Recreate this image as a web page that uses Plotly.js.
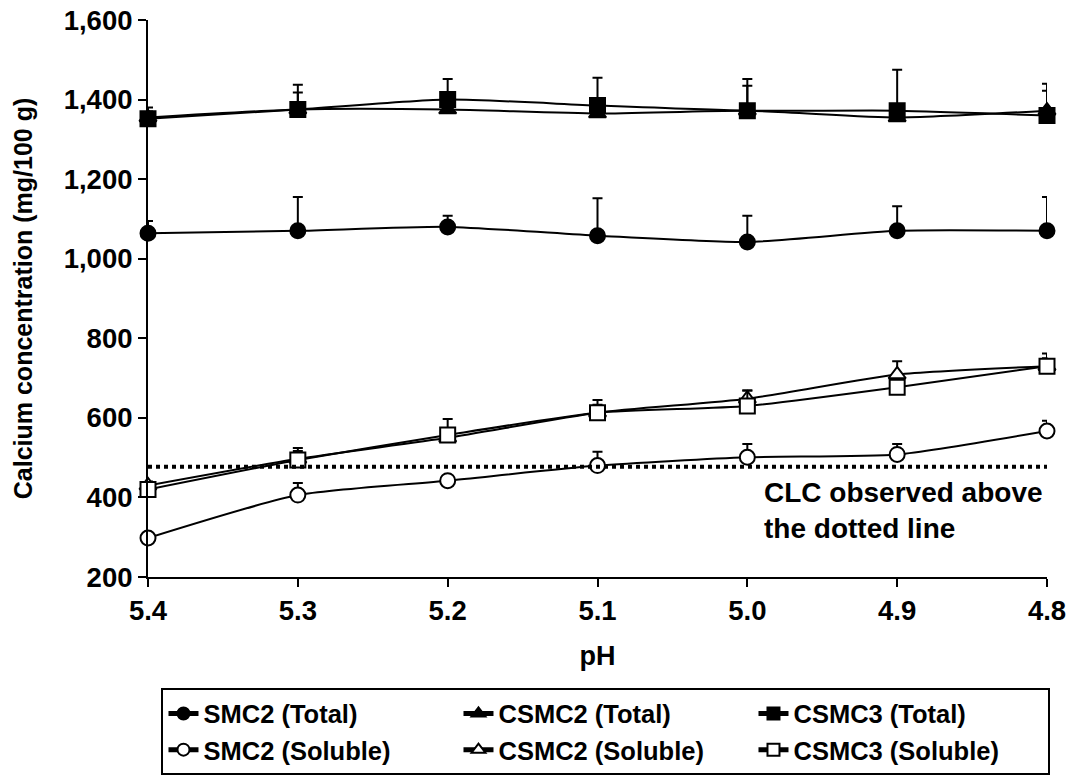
<!DOCTYPE html>
<html>
<head>
<meta charset="utf-8">
<script src="https://cdn.plot.ly/plotly-3.0.1.min.js"></script>
<style>html,body{margin:0;padding:0;background:#fff;}#chart{width:1070px;height:780px;}</style>
</head>
<body>
<div id="chart"></div>
<script>
const pH = [5.4, 5.3, 5.2, 5.1, 5.0, 4.9, 4.8];
const xTickLabels = ['5.4', '5.3', '5.2', '5.1', '5.0', '4.9', '4.8'];

const smc2Total = [1064, 1070, 1080, 1058, 1042, 1070, 1070];
const smc2TotalErr = [31, 85, 28, 94, 66, 62, 85];
const csmc2Total = [1355, 1375, 1375, 1365, 1372, 1355, 1372];
const csmc2TotalErr = [15, 43, 15, 15, 63, 15, 50];
const csmc3Total = [1352, 1375, 1400, 1385, 1372, 1372, 1360];
const csmc3TotalErr = [28, 62, 52, 70, 80, 103, 80];

const smc2Soluble = [298, 406, 442, 480, 501, 508, 567];
const smc2SolubleErr = [10, 30, 10, 35, 33, 26, 26];
const csmc2Soluble = [430, 497, 550, 613, 648, 709, 730];
const csmc2SolubleErr = [10, 20, 15, 20, 21, 33, 20];
const csmc3Soluble = [420, 494, 557, 613, 630, 677, 730];
const csmc3SolubleErr = [10, 30, 40, 32, 39, 15, 32];

const clcThreshold = 477;

const FONT = 'Liberation Sans, Arial, Helvetica, sans-serif';

function series(name, y, err, symbol, open) {
  return {
    type: 'scatter', mode: 'lines+markers', name: name,
    x: pH, y: y,
    line: {color: '#000', width: 2, shape: 'spline', smoothing: 0.6},
    marker: {symbol: symbol, size: 15, color: open ? '#fff' : '#000',
             line: {color: '#000', width: 2}},
    error_y: {type: 'data', symmetric: false, array: err, arrayminus: err.map(() => 0),
              color: '#000', thickness: 2, width: 5},
    cliponaxis: false
  };
}

const traces = [
  series('SMC2 (Total)', smc2Total, smc2TotalErr, 'circle', false),
  series('CSMC2 (Total)', csmc2Total, csmc2TotalErr, 'triangle-up', false),
  series('CSMC3 (Total)', csmc3Total, csmc3TotalErr, 'square', false),
  series('SMC2 (Soluble)', smc2Soluble, smc2SolubleErr, 'circle', true),
  series('CSMC2 (Soluble)', csmc2Soluble, csmc2SolubleErr, 'triangle-up', true),
  series('CSMC3 (Soluble)', csmc3Soluble, csmc3SolubleErr, 'square', true)
];

const bold = (size) => ({family: FONT, size: size, color: '#000', weight: 'bold'});

const layout = {
  width: 1070, height: 780,
  margin: {l: 148, r: 23, t: 20, b: 203, autoexpand: false},
  paper_bgcolor: '#fff', plot_bgcolor: '#fff',
  font: bold(27),
  showlegend: true,
  xaxis: {
    range: [5.4, 4.8], tickvals: pH, ticktext: xTickLabels,
    showgrid: false, zeroline: false, showline: true, linecolor: '#000', linewidth: 2,
    ticks: 'outside', ticklen: 8, tickwidth: 2, tickcolor: '#000',
    tickfont: bold(27.5),
    title: {text: 'pH', font: bold(27), standoff: 21}
  },
  yaxis: {
    range: [200, 1600], dtick: 200, tick0: 200, tickformat: ',',
    showgrid: false, zeroline: false, showline: true, linecolor: '#000', linewidth: 2,
    ticks: 'outside', ticklen: 8, tickwidth: 2, tickcolor: '#000',
    tickfont: bold(27.5),
    title: {text: 'Calcium concentration (mg/100 g)', font: bold(25), standoff: 24}
  },
  legend: {
    orientation: 'h', x: 0.015, y: -0.2, xanchor: 'left', yanchor: 'top',
    bordercolor: '#000', borderwidth: 2, bgcolor: '#fff',
    entrywidth: 250, entrywidthmode: 'pixels', itemsizing: 'constant',
    font: bold(25.5),
    traceorder: 'normal'
  },
  shapes: [{
    type: 'line', xref: 'x', yref: 'y', x0: pH[0], x1: pH[pH.length - 1], y0: clcThreshold, y1: clcThreshold,
    line: {color: '#000', width: 4, dash: 'dot'}
  }],
  annotations: [{
    xref: 'x', yref: 'y', x: 4.99, y: 366, xanchor: 'left', yanchor: 'middle', align: 'left',
    showarrow: false, text: 'CLC observed above<br>the dotted line',
    font: bold(28)
  }]
};

Plotly.newPlot('chart', traces, layout, {displayModeBar: false, staticPlot: true});
</script>
</body>
</html>
